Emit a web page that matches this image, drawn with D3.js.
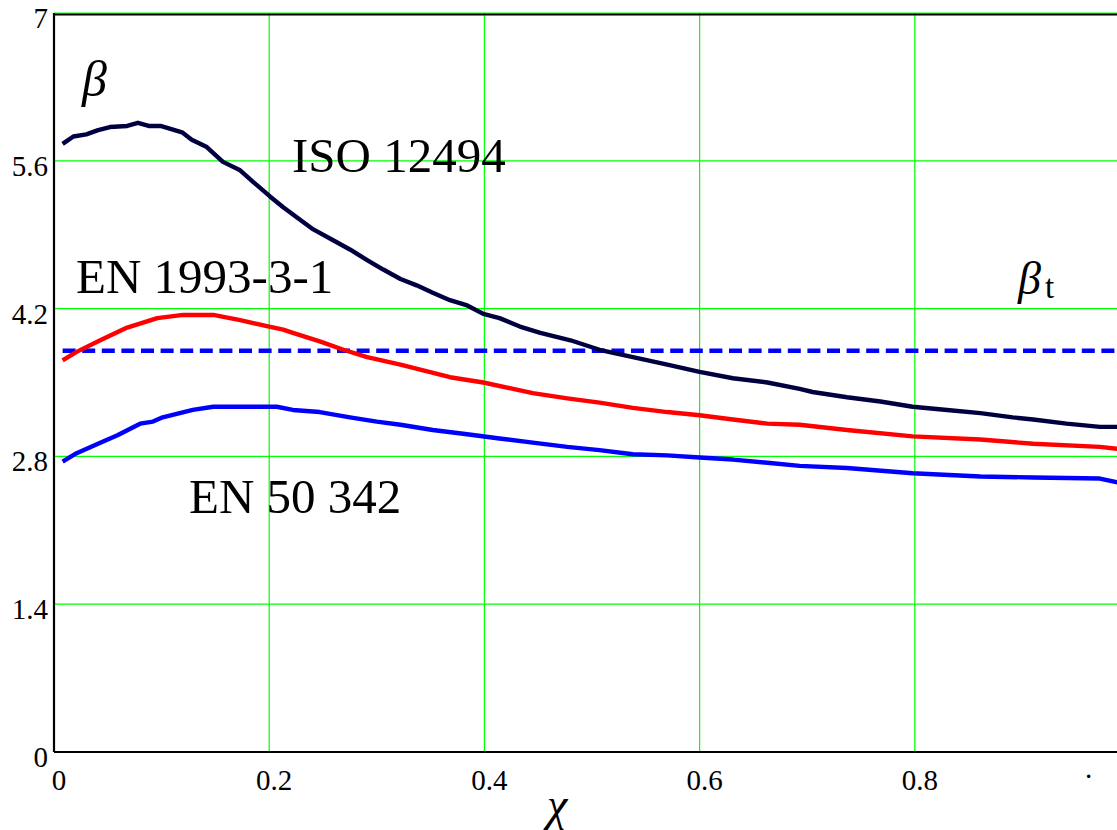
<!DOCTYPE html>
<html>
<head>
<meta charset="utf-8">
<script src="https://cdn.jsdelivr.net/npm/d3@7"></script>
<style>
  html, body { margin: 0; padding: 0; background: #fff; }
  svg { display: block; }
  text { font-family: "Liberation Serif", "Times New Roman", serif; fill: #000; }
</style>
</head>
<body>
<div id="chart"></div>
<script>
// values
const xTicks = [0, 0.2, 0.4, 0.6, 0.8];
const yTicks = [0, 1.4, 2.8, 4.2, 5.6, 7];
const betaTarget = 3.8;

const isoChi = [0.008, 0.018, 0.03, 0.041, 0.052, 0.068, 0.078, 0.088, 0.099, 0.119, 0.128, 0.142,
  0.157, 0.173, 0.185, 0.201, 0.213, 0.229, 0.241, 0.259, 0.275, 0.291, 0.306, 0.322, 0.337, 0.352,
  0.368, 0.384, 0.399, 0.414, 0.433, 0.452, 0.48, 0.507, 0.538, 0.57, 0.6, 0.631, 0.663, 0.693,
  0.705, 0.737, 0.768, 0.798, 0.83, 0.861, 0.891, 0.91, 0.941, 0.972, 0.99];
const isoBeta = [5.76, 5.83, 5.85, 5.89, 5.92, 5.93, 5.96, 5.93, 5.93, 5.87, 5.80, 5.73,
  5.59, 5.51, 5.40, 5.26, 5.16, 5.04, 4.95, 4.85, 4.76, 4.66, 4.57, 4.48, 4.42, 4.35,
  4.28, 4.23, 4.15, 4.11, 4.03, 3.97, 3.90, 3.81, 3.74, 3.67, 3.60, 3.54, 3.50, 3.44,
  3.41, 3.36, 3.32, 3.27, 3.24, 3.21, 3.17, 3.15, 3.11, 3.08, 3.08];

const enChi = [0.008, 0.021, 0.043, 0.068, 0.096, 0.12, 0.148, 0.173, 0.2, 0.213, 0.222, 0.247,
  0.269, 0.291, 0.322, 0.368, 0.399, 0.445, 0.477, 0.507, 0.538, 0.57, 0.6, 0.631, 0.663, 0.693,
  0.737, 0.798, 0.861, 0.91, 0.972, 0.99];
const enBeta = [3.71, 3.79, 3.90, 4.02, 4.11, 4.14, 4.14, 4.09, 4.03, 4.00, 3.97, 3.89,
  3.81, 3.74, 3.67, 3.55, 3.50, 3.40, 3.35, 3.31, 3.26, 3.22, 3.19, 3.15, 3.11, 3.10,
  3.05, 2.99, 2.96, 2.92, 2.89, 2.87];

const en50Chi = [0.008, 0.021, 0.043, 0.059, 0.08, 0.092, 0.101, 0.129, 0.148, 0.207, 0.222, 0.247,
  0.275, 0.3, 0.322, 0.352, 0.384, 0.414, 0.445, 0.477, 0.507, 0.538, 0.57, 0.6, 0.631, 0.663,
  0.693, 0.737, 0.798, 0.861, 0.91, 0.972, 0.99];
const en50Beta = [2.75, 2.83, 2.93, 3.00, 3.11, 3.13, 3.17, 3.24, 3.27, 3.27, 3.24, 3.22,
  3.17, 3.13, 3.10, 3.05, 3.01, 2.97, 2.93, 2.89, 2.86, 2.82, 2.81, 2.79, 2.77, 2.74,
  2.71, 2.69, 2.64, 2.61, 2.60, 2.59, 2.55];

const width = 1117;
const height = 830;

const x = d3.scaleLinear().domain([0, 1]).range([54, 1130]);
const y = d3.scaleLinear().domain([0, 7]).range([752, 13]);

const svg = d3.select('#chart').append('svg')
    .attr('width', width)
    .attr('height', height)
    .style('background', '#fff');

// grid
const grid = svg.append('g').attr('stroke', '#00ff00').attr('stroke-width', 1.2);
grid.selectAll('.vgrid')
    .data(xTicks.filter(d => d > 0))
    .enter()
    .append('line')
    .attr('x1', d => x(d)).attr('x2', d => x(d))
    .attr('y1', y(7)).attr('y2', y(0));
grid.selectAll('.hgrid')
    .data(yTicks.filter(d => d > 0))
    .enter()
    .append('line')
    .attr('x1', x(0)).attr('x2', width)
    .attr('y1', d => y(d)).attr('y2', d => y(d));

// frame
const frame = svg.append('g').attr('stroke', '#000').attr('stroke-width', 2.2);
frame.append('line').attr('x1', x(0)).attr('x2', width).attr('y1', y(0)).attr('y2', y(0));
frame.append('line').attr('x1', x(0)).attr('x2', x(0)).attr('y1', y(7)).attr('y2', y(0));
frame.append('line').attr('x1', x(0)).attr('x2', width).attr('y1', y(7) + 1.5).attr('y2', y(7) + 1.5);

// tick labels
svg.selectAll('.xlabel')
    .data(xTicks)
    .enter()
    .append('text')
    .attr('x', d => x(d) + 5)
    .attr('y', 790)
    .attr('text-anchor', 'middle')
    .style('font-size', '29px')
    .text(d => d === 0 ? '0' : d3.format('.1f')(d));

svg.selectAll('.ylabel')
    .data(yTicks)
    .enter()
    .append('text')
    .attr('x', 48)
    .attr('y', d => y(d) + 15)
    .attr('text-anchor', 'end')
    .style('font-size', '29px')
    .text(d => d === 0 || d === 7 ? String(d) : d3.format('.1f')(d));

svg.append('text')
    .attr('x', 1085)
    .attr('y', 778)
    .style('font-size', '29px')
    .text('.');

// curves
const line = d3.line()
    .x(d => x(d[0]))
    .y(d => y(d[1]));

const series = [
    { chi: isoChi, beta: isoBeta, color: '#000040' },
    { chi: enChi, beta: enBeta, color: '#ff0000' },
    { chi: en50Chi, beta: en50Beta, color: '#0000ff' }
];

// target reliability (dashed)
svg.append('line')
    .attr('x1', x(0.008)).attr('x2', width)
    .attr('y1', y(betaTarget)).attr('y2', y(betaTarget))
    .attr('stroke', '#0000ff')
    .attr('stroke-width', 4.5)
    .attr('stroke-dasharray', '13,6.6');

series.forEach(s => {
    svg.append('path')
        .datum(s.chi.map((c, i) => [c, s.beta[i]]))
        .attr('d', line)
        .attr('fill', 'none')
        .attr('stroke', s.color)
        .attr('stroke-width', 4.4)
        .attr('stroke-linejoin', 'round');
});

// annotations
svg.append('text').attr('x', 292).attr('y', 172).style('font-size', '49px').text('ISO 12494');
svg.append('text').attr('x', 76).attr('y', 293).style('font-size', '49px').text('EN 1993-3-1');
svg.append('text').attr('x', 189).attr('y', 513).style('font-size', '49px').text('EN 50 342');

svg.append('text')
    .attr('x', 82).attr('y', 96)
    .style('font-size', '50px').style('font-style', 'italic')
    .text('β');

svg.append('text')
    .attr('x', 1018).attr('y', 294)
    .style('font-size', '46px').style('font-style', 'italic')
    .text('β');
svg.append('text')
    .attr('x', 1045).attr('y', 298)
    .style('font-size', '33px')
    .text('t');

svg.append('text')
    .attr('x', 547).attr('y', 820)
    .style('font-size', '46px').style('font-style', 'italic')
    .text('χ');
</script>
</body>
</html>
